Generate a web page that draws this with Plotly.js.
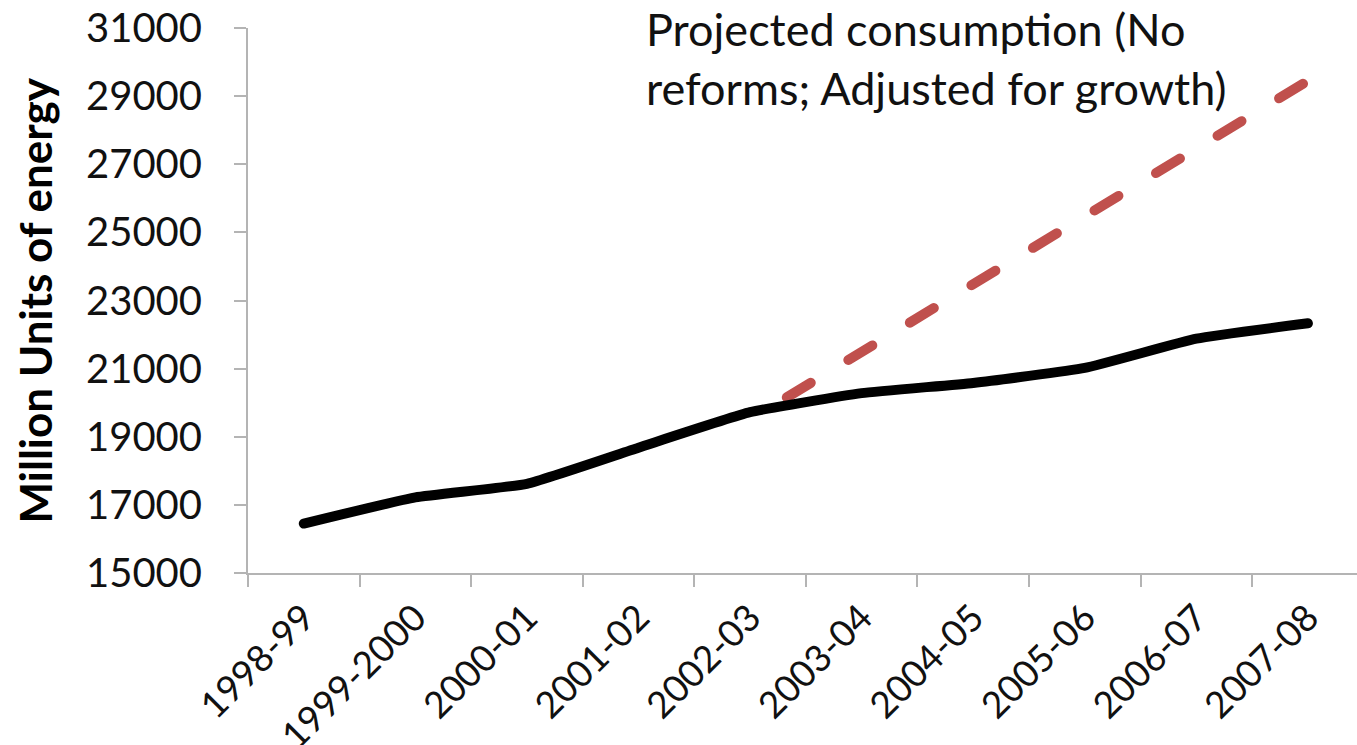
<!DOCTYPE html>
<html>
<head>
<meta charset="utf-8">
<script src="https://cdn.plot.ly/plotly-3.0.1.min.js"></script>
<style>
  html, body { margin: 0; padding: 0; background: #fff; }
  #chart { width: 1357px; height: 745px; }
  .scatterlayer .js-line { stroke-linecap: round !important; stroke-linejoin: round !important; }
  /* shift the dash pattern of the projection so it opens with a gap */
  .scatterlayer .trace:nth-child(1) .js-line { stroke-dashoffset: 29px; }
</style>
</head>
<body>
<div id="chart"></div>
<script>
// Financial years on the category axis
const years = ['1998-99', '1999-2000', '2000-01', '2001-02', '2002-03',
               '2003-04', '2004-05', '2005-06', '2006-07', '2007-08'];

// Actual consumption, million units
const actual = [16450, 17220, 17620, 18680, 19720, 20280, 20580, 21020, 21880, 22330];

// Projected consumption without reforms, from 2002-03 onward
const projYears = ['2002-03', '2003-04', '2004-05', '2005-06', '2006-07', '2007-08'];
const projected = [19500, 21500, 23500, 25450, 27450, 29450];

const yTicks = [15000, 17000, 19000, 21000, 23000, 25000, 27000, 29000, 31000];

const FONT = 'Lato, "Open Sans", sans-serif';
const AXIS_GREY = '#b4b4b4';

const traces = [
  {
    x: projYears, y: projected, type: 'scatter', mode: 'lines',
    line: { color: '#C0504D', width: 10, dash: '28px,44px' },
    hoverinfo: 'x+y'
  },
  {
    x: years, y: actual, type: 'scatter', mode: 'lines',
    line: { color: '#000000', width: 10, shape: 'spline', smoothing: 0.4 },
    hoverinfo: 'x+y'
  }
];

const layout = {
  width: 1357, height: 745,
  margin: { l: 248, r: 0, t: 28, b: 172 },
  paper_bgcolor: '#ffffff', plot_bgcolor: '#ffffff',
  showlegend: false,
  font: { family: FONT, color: '#000' },
  xaxis: {
    type: 'category',
    categoryorder: 'array', categoryarray: years,
    range: [-0.5, 9.44],
    showgrid: false, zeroline: false,
    showline: true, linecolor: AXIS_GREY, linewidth: 2,
    ticks: 'outside', tickson: 'boundaries', ticklen: 12, tickwidth: 2, tickcolor: AXIS_GREY,
    tickangle: -45,
    ticklabelstandoff: 6,
    tickfont: { family: FONT, size: 37, color: '#111' },
    fixedrange: true
  },
  yaxis: {
    range: [15000, 31000],
    tickvals: yTicks, ticktext: yTicks.map(String),
    showgrid: false, zeroline: false,
    showline: true, linecolor: AXIS_GREY, linewidth: 2,
    ticks: 'outside', ticklen: 12, tickwidth: 2, tickcolor: AXIS_GREY,
    ticklabelstandoff: 24,
    tickfont: { family: FONT, size: 40, color: '#111' },
    fixedrange: true
  },
  annotations: [
    {
      text: '<b>Million Units of energy</b>',
      textangle: -90,
      xref: 'paper', yref: 'paper',
      x: 0, y: 0.5, xanchor: 'center', yanchor: 'middle',
      xshift: -214,
      showarrow: false,
      font: { family: FONT, size: 44, color: '#000' }
    },
    {
      text: 'Projected consumption (No<br>reforms; Adjusted for growth)',
      xref: 'paper', yref: 'paper',
      x: 0.358, y: 1.049, xanchor: 'left', yanchor: 'top', align: 'left',
      borderpad: 0,
      showarrow: false,
      font: { family: FONT, size: 45, color: '#111' }
    }
  ]
};

Plotly.newPlot('chart', traces, layout, { displayModeBar: false, staticPlot: true });
</script>
</body>
</html>
